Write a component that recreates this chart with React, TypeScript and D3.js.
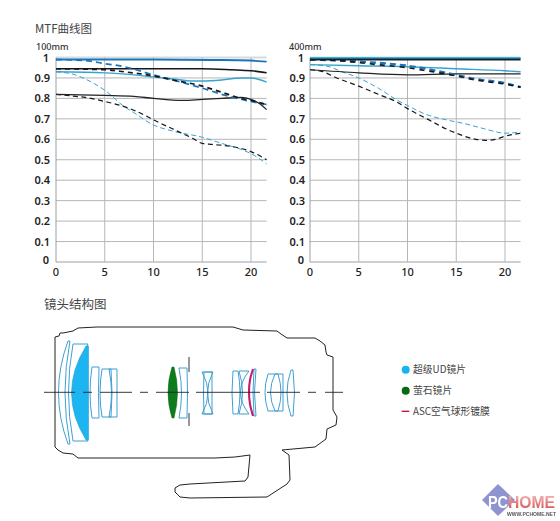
import React from "react";
import * as d3 from "d3";

// ---------- MTF data: [image height mm, contrast] ----------
type P = [number, number];
const xTicks = [0, 5, 10, 15, 20];
const yTicks = [0, 0.1, 0.2, 0.3, 0.4, 0.5, 0.6, 0.7, 0.8, 0.9, 1];
const yLabels = ["0", "0.1", "0.2", "0.3", "0.4", "0.5", "0.6", "0.7", "0.8", "0.9", "1"];

const a100BlueSolid: P[] = [[0, 0.99], [10, 0.99], [16, 0.988], [20, 0.985], [21.6, 0.98]];
const a100BlueDash: P[] = [[0, 0.99], [3, 0.985], [5, 0.97], [7, 0.955], [10, 0.915], [12, 0.89], [15, 0.85], [17, 0.82], [20, 0.785], [21.6, 0.77]];
const a100BlackSolid: P[] = [[0, 0.945], [8, 0.945], [15, 0.945], [18, 0.94], [20, 0.935], [21.6, 0.925]];
const a100BlackDash: P[] = [[0, 0.945], [5, 0.94], [7, 0.93], [10, 0.91], [12, 0.89], [15, 0.86], [17, 0.83], [19, 0.8], [20, 0.79], [21.6, 0.77]];
const a100LightSolid: P[] = [[0, 0.93], [5, 0.925], [8, 0.915], [10, 0.905], [12, 0.895], [14, 0.885], [15, 0.885], [17, 0.89], [19, 0.9], [20, 0.9], [21, 0.89], [21.6, 0.88]];
const a100LightDash: P[] = [[0, 0.93], [2, 0.915], [3, 0.895], [5, 0.84], [7, 0.76], [8, 0.73], [10, 0.67], [12, 0.64], [15, 0.61], [17, 0.58], [19, 0.55], [20, 0.53], [21.6, 0.48]];
const a100LowSolid: P[] = [[0, 0.82], [5, 0.815], [8, 0.81], [10, 0.8], [13, 0.79], [15, 0.795], [17, 0.8], [19, 0.805], [20, 0.795], [21, 0.77], [21.6, 0.745]];
const a100LowDash: P[] = [[0, 0.82], [2, 0.81], [3, 0.805], [5, 0.785], [7, 0.76], [9, 0.72], [10, 0.695], [12, 0.65], [14, 0.605], [15, 0.58], [16, 0.575], [18, 0.565], [20, 0.54], [21.6, 0.5]];

const b400Top: P[] = [[0, 0.998], [21.6, 0.998]];
const b400BlackSolid: P[] = [[0, 0.99], [21.6, 0.99]];
const b400BlackDash: P[] = [[0, 0.99], [3, 0.985], [5, 0.975], [7, 0.965], [10, 0.95], [12, 0.935], [15, 0.91], [17, 0.89], [20, 0.87], [21.6, 0.855]];
const b400BlueDash: P[] = [[0, 0.99], [5, 0.98], [10, 0.96], [15, 0.915], [17, 0.895], [20, 0.875], [21.6, 0.855]];
const b400LightSolid: P[] = [[0, 0.965], [5, 0.96], [10, 0.955], [15, 0.945], [20, 0.935], [21.6, 0.93]];
const b400LowSolid: P[] = [[0, 0.94], [5, 0.925], [10, 0.915], [15, 0.92], [20, 0.92], [21.6, 0.92]];
const b400LightDash: P[] = [[0, 0.965], [2, 0.955], [3, 0.935], [5, 0.9], [7, 0.85], [9, 0.79], [10, 0.765], [12, 0.72], [14, 0.695], [16, 0.675], [18, 0.65], [20, 0.63], [21.6, 0.635]];
const b400LowDash: P[] = [[0, 0.94], [1, 0.935], [3, 0.895], [5, 0.86], [7, 0.82], [9, 0.78], [10, 0.75], [12, 0.7], [14, 0.65], [15, 0.63], [17, 0.6], [18, 0.595], [19, 0.6], [20, 0.615], [21.6, 0.63]];

const BLACK = "#15181c";
const BLUE = "#1a74b8";
const LIGHT = "#38a3cf";
type S = { d: P[]; c: string; w: number; dash?: string };
const series100: S[] = [
  { d: a100LightDash, c: LIGHT, w: 1, dash: "5 3" },
  { d: a100LowDash, c: BLACK, w: 1.2, dash: "5 3.5" },
  { d: a100LowSolid, c: "#222", w: 1.3 },
  { d: a100LightSolid, c: LIGHT, w: 1.4 },
  { d: a100BlackSolid, c: BLACK, w: 1.6 },
  { d: a100BlueSolid, c: BLUE, w: 1.9 },
  { d: a100BlueDash, c: BLUE, w: 1.7, dash: "6 4" },
  { d: a100BlackDash, c: BLACK, w: 1.7, dash: "5 4" },
];
const series400: S[] = [
  { d: b400LightDash, c: LIGHT, w: 1, dash: "5 3" },
  { d: b400LowDash, c: BLACK, w: 1.2, dash: "5 3.5" },
  { d: b400LowSolid, c: "#222", w: 1.2 },
  { d: b400LightSolid, c: LIGHT, w: 1.4 },
  { d: b400BlueDash, c: BLUE, w: 2.2, dash: "6 4" },
  { d: b400BlackDash, c: BLACK, w: 1.7, dash: "5 5" },
  { d: b400Top, c: "#38b4dc", w: 2 },
  { d: b400BlackSolid, c: "#10202e", w: 2 },
];

// ---------- Lens schematic (traced outline and elements) ----------
const barrelOutline: P[] = [[55, 337], [59, 336], [60, 333], [63, 333], [73, 331], [78, 328], [97, 327], [163, 327], [190, 327], [233, 327], [243, 330], [277, 331], [281, 334], [287, 338], [315, 338], [320, 341], [325, 345], [326, 352], [327, 355], [333, 357], [333, 410], [337, 417], [336, 425], [327, 429], [326, 439], [315, 447], [282, 450], [289, 455], [290, 480], [287, 484], [267, 497], [190, 498], [180, 497], [175, 492], [175, 488], [180, 485], [190, 484], [245, 481], [248, 477], [250, 455], [235, 457], [215, 458], [190, 458], [163, 458], [97, 458], [78, 458], [73, 454], [63, 453], [58, 450], [55, 447], [55, 337]];

// [left edge x, right edge x, top y, bottom y, left control x, right control x]
type Lens = [number, number, number, number, number, number];
const blueLenses: Lens[] = [
  [68, 70, 341, 444, 49, 60],
  [73, 88, 344, 441, 64, 68],
  [92, 99, 367, 418, 88, 98],
  [102, 111, 369, 417, 98, 113],
  [109, 117, 369, 417, 114, 117],
  [179, 187, 368, 418, 184, 188],
  [202, 212, 372, 414, 214, 212],
  [204, 213, 372, 414, 203, 202],
  [233, 238, 371, 414, 231, 242],
  [239, 249, 371, 414, 246, 232],
  [254, 256, 369, 416, 252, 253],
  [268, 278, 374, 411, 262, 284],
  [275, 283, 374, 411, 266, 283],
  [291, 293, 370, 416, 283, 296],
];
const uvLens: Lens = [86, 88.5, 346, 440, 57, 88.5];
const fluoriteLens: Lens = [172, 174, 367, 418, 164, 181];
const ascLens: P[] = [[253, 369], [250, 380], [249, 392], [250, 404], [253, 416]];
const axisDashes: P[] = [[44, 75], [83, 92], [100, 132], [140, 148], [156, 189], [196, 260], [267, 300], [308, 316], [325, 343]];
const stops: P[] = [[357, 372], [413, 426]];

function lensPath([lx, rx, ty, by, lc, rc]: Lens) {
  const p = d3.path();
  p.moveTo(lx, ty);
  p.quadraticCurveTo(lc, (ty + by) / 2, lx, by);
  p.lineTo(rx, by);
  p.quadraticCurveTo(rc, (ty + by) / 2, rx, ty);
  p.closePath();
  return p.toString();
}

const FONT = "'Noto Sans','Noto Sans CJK SC',sans-serif";
const CJK = "'Noto Sans CJK SC','Noto Sans',sans-serif";

function Mtf({ x0, x20, title, titleX, labelRight, series }: { x0: number; x20: number; title: string; titleX: number; labelRight: number; series: S[] }) {
  const x = d3.scaleLinear().domain([0, 20]).range([x0, x20]);
  const y = d3.scaleLinear().domain([0, 1]).range([262, 57.5]);
  const line = d3.line<P>().x((d) => x(d[0])).y((d) => y(d[1])).curve(d3.curveMonotoneX);
  const xEnd = x(21.6);
  return (
    <g>
      <text x={titleX} y={49.5} fontSize={9} fontFamily={FONT} fontWeight={500} fill="#333">{title}</text>
      <g filter="url(#soft)">
        {yTicks.map((t) => (
          <line key={t} x1={x0} x2={xEnd} y1={y(t)} y2={y(t)} stroke={t === 1 ? "#d4dbe0" : t === 0 ? "#9aa0a6" : "#b4b6b8"} strokeWidth={t === 1 ? 2 : 1} />
        ))}
        {xTicks.map((t) => (
          <line key={t} x1={x(t)} x2={x(t)} y1={y(1)} y2={y(0)} stroke={t === 0 ? "#9aa0a6" : "#b4b6b8"} strokeWidth={1} />
        ))}
        {series.map((s, i) => (
          <path key={i} d={line(s.d) ?? ""} fill="none" stroke={s.c} strokeWidth={s.w} strokeDasharray={s.dash} />
        ))}
      </g>
      {yTicks.map((t, i) => (
        <text key={t} x={t === 0 || t === 1 ? labelRight - 1 : labelRight} y={(t === 0 ? y(t) - 2 : y(t)) + 4} textAnchor="end" fontSize={11} fontFamily={FONT} fontWeight={600} fill="#222">{yLabels[i]}</text>
      ))}
      {xTicks.map((t) => (
        <text key={t} x={x(t)} y={276} textAnchor="middle" fontSize={11} fontFamily={FONT} fontWeight={500} fill="#222">{t}</text>
      ))}
    </g>
  );
}

export default function App() {
  const outline = d3.line<P>().x((d) => d[0]).y((d) => d[1]);
  const asc = d3.line<P>().x((d) => d[0]).y((d) => d[1]).curve(d3.curveCatmullRom);
  return (
    <svg width={560} height={521} style={{ position: "absolute", left: 0, top: 0, background: "#fff" }}>
      <defs>
        <filter id="soft" x="-5%" y="-5%" width="110%" height="110%"><feGaussianBlur stdDeviation="0.35" /></filter>
        <linearGradient id="wm" x1="0" y1="0" x2="0" y2="1">
          <stop offset="0" stopColor="#f4b8b8" />
          <stop offset="1" stopColor="#d84a4a" />
        </linearGradient>
      </defs>
      <text x={35} y={33} fontSize={11.5} fontFamily={CJK} fill="#444">MTF曲线图</text>
      <Mtf x0={56} x20={251} title="100mm" titleX={36} labelRight={50} series={series100} />
      <Mtf x0={310} x20={505} title="400mm" titleX={289} labelRight={305} series={series400} />

      <text x={44} y={309} fontSize={12.5} fontFamily={CJK} fill="#444">镜头结构图</text>
      <g filter="url(#soft)">
        <path d={outline(barrelOutline) ?? ""} fill="none" stroke="#222" strokeWidth={1} />
        {blueLenses.map((l, i) => (
          <path key={i} d={lensPath(l)} fill="none" stroke="#3f9fd0" strokeWidth={1} />
        ))}
        <path d={lensPath(uvLens)} fill="#1ab5f2" stroke="#2a9fd0" strokeWidth={0.6} />
        <path d={lensPath(fluoriteLens)} fill="#0a7a1e" stroke="#0a6a1a" strokeWidth={0.5} />
        <path d={asc(ascLens) ?? ""} fill="none" stroke="#c41e6e" strokeWidth={2.1} />
        {axisDashes.map((d, i) => (
          <line key={i} x1={d[0]} x2={d[1]} y1={392.3} y2={392.3} stroke="#222" strokeWidth={0.9} />
        ))}
        {stops.map((d, i) => (
          <line key={i} x1={189} x2={189} y1={d[0]} y2={d[1]} stroke="#333" strokeWidth={1} />
        ))}
      </g>

      <circle cx={405.7} cy={369.7} r={4} fill="#16b4f2" />
      <text x={413} y={373.2} fontSize={9.8} fontFamily={CJK} fill="#444">超级UD镜片</text>
      <circle cx={405.7} cy={390.7} r={4} fill="#056b12" />
      <text x={413} y={394.2} fontSize={9.8} fontFamily={CJK} fill="#444">萤石镜片</text>
      <line x1={401.7} x2={409.3} y1={411.3} y2={411.3} stroke="#c8183c" strokeWidth={1.4} />
      <text x={413} y={414.7} fontSize={9.8} fontFamily={CJK} fill="#444">ASC空气球形镀膜</text>

      <g filter="url(#soft)">
        <path d={d3.line()([[498, 484], [515, 500], [498, 516], [482, 500]]) + "Z"} fill="#8f93cf" />
        <text x={488} y={508} fontSize={17} fontWeight={700} fontFamily="'Liberation Sans',sans-serif" fill="#fff" textLength={20} lengthAdjust="spacingAndGlyphs">PC</text>
        <text x={508} y={508} fontSize={16} fontWeight={700} fontFamily="'Liberation Sans',sans-serif" fill="url(#wm)" textLength={47} lengthAdjust="spacingAndGlyphs">HOME</text>
        <text x={507} y={516} fontSize={4.5} fontWeight={700} fontFamily="'Liberation Sans',sans-serif" fill="#555" textLength={49} lengthAdjust="spacingAndGlyphs">WWW.PCHOME.NET</text>
      </g>
    </svg>
  );
}
